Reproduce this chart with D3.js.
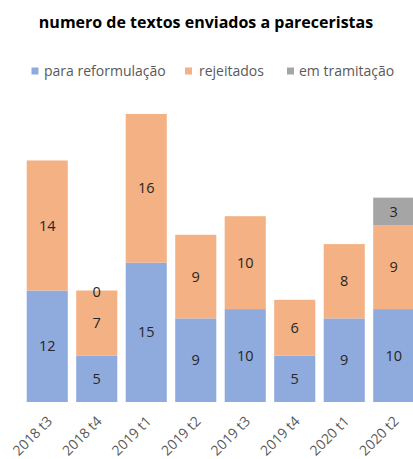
<!DOCTYPE html>
<html><head><meta charset="utf-8">
<script src="https://cdn.jsdelivr.net/npm/d3@7"></script>
<style>html,body{margin:0;padding:0;background:#fff;overflow:hidden;}</style>
</head><body>
<svg id="chart" width="413" height="459"></svg>
<script>
const categories = ["2018 t3","2018 t4","2019 t1","2019 t2","2019 t3","2019 t4","2020 t1","2020 t2"];
const seriesNames = ["para reformulação","rejeitados","em tramitação"];
const reformulacao = [12,5,15,9,10,5,9,10];
const rejeitados = [14,7,16,9,10,6,8,9];
const tramitacao = [null,0,null,null,null,null,null,3];
const colors = ["#8faadc","#f4b183","#a5a5a5"];

const svg = d3.select("#chart");
const font = "'Open Sans', 'Noto Sans', sans-serif";

const x = d3.scaleBand().domain(categories).range([22.5, 418.5]).paddingInner(0.17).paddingOuter(0.085);
const y = d3.scaleLinear().domain([0,35]).range([402, 402-35*9.29]);

const table = categories.map((c,i)=>({cat:c, s0:reformulacao[i], s1:rejeitados[i], s2:tramitacao[i]}));
const stack = d3.stack().keys(["s0","s1","s2"]).value((d,k)=> d[k]==null?0:d[k]);
const layers = stack(table);

// title
svg.append("text").attr("x",206).attr("y",28).attr("text-anchor","middle")
  .attr("font-family",font).attr("font-weight","bold").attr("font-size","16px").attr("fill","#000")
  .text("numero de textos enviados a pareceristas");

// legend
const legendItems = [{x:31.5,tx:44},{x:185,tx:199},{x:287,tx:299}];
seriesNames.forEach((n,i)=>{
  svg.append("rect").attr("x",legendItems[i].x).attr("y",67.5).attr("width",7).attr("height",7).attr("fill",colors[i]);
  svg.append("text").attr("x",legendItems[i].tx).attr("y",76).attr("font-family",font).attr("font-size","14px")
    .attr("fill","#595959").text(n);
});

// bars
const g = svg.append("g");
layers.forEach((layer,li)=>{
  g.selectAll(null).data(layer).enter().append("rect")
    .attr("x",d=>x(d.data.cat)).attr("width",x.bandwidth())
    .attr("y",d=>y(d[1])).attr("height",d=>y(d[0])-y(d[1]))
    .attr("fill",colors[li]);
  g.selectAll(null).data(layer.filter(d=>d.data[layer.key]!=null)).enter().append("text")
    .attr("x",d=>x(d.data.cat)+x.bandwidth()/2)
    .attr("y",d=>(y(d[0])+y(d[1]))/2 + (d[1]===d[0]?1:0))
    .attr("dy","0.35em").attr("text-anchor","middle")
    .attr("font-family",font).attr("font-size","14.5px").attr("fill","#262626")
    .text(d=>d.data[layer.key]);
});

// x axis labels
const ax = svg.append("g").attr("transform","translate(0,402)")
  .call(d3.axisBottom(x).tickSize(0).tickPadding(0));
ax.select(".domain").remove();
ax.selectAll("text").attr("font-family",font).attr("font-size","14px").attr("fill","#595959")
  .attr("text-anchor","end").attr("dy",null).attr("y",0)
  .attr("transform","translate(6,20) rotate(-45)");
</script>
</body></html>
